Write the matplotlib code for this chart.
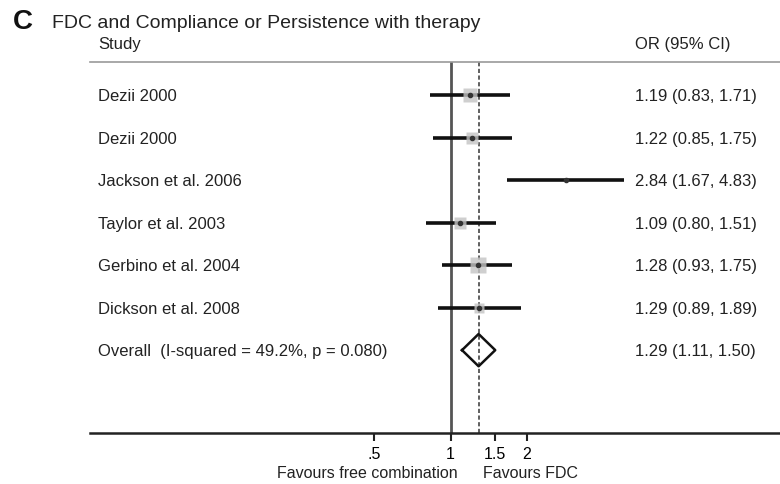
import matplotlib.pyplot as plt
import matplotlib.transforms as mtransforms
import numpy as np

plt.rcParams['font.family'] = ['Liberation Sans', 'DejaVu Sans']

studies = ['Dezii 2000', 'Dezii 2000', 'Jackson et al. 2006', 'Taylor et al. 2003',
           'Gerbino et al. 2004', 'Dickson et al. 2008']
odds = [1.19, 1.22, 2.84, 1.09, 1.28, 1.29]
lower = [0.83, 0.85, 1.67, 0.80, 0.93, 0.89]
upper = [1.71, 1.75, 4.83, 1.51, 1.75, 1.89]
overall_label = 'Overall  (I-squared = 49.2%, p = 0.080)'
overall = (1.29, 1.11, 1.50)
ticks = [0.5, 1, 1.5, 2]
tick_labels = ['.5', '1', '1.5', '2']

# weight boxes (points)
box_sizes = [10, 9, 2, 9, 11, 7]

W, H = 780, 484
fig = plt.figure(figsize=(W / 100, H / 100), dpi=100)
ax = fig.add_axes([90 / W, (H - 433) / H, 690 / W, (433 - 62) / H])
ax.set_xscale('log')
px_per_log2 = 76.5
x_one = 450.5
ax.set_xlim(2 ** ((90 - x_one) / px_per_log2), 2 ** ((780 - x_one) / px_per_log2))
ax.set_ylim(7.95, -0.78)

for s in ['left', 'right']:
    ax.spines[s].set_visible(False)
ax.spines['top'].set_color('#9a9a9a')
ax.spines['top'].set_linewidth(1.2)
ax.spines['bottom'].set_linewidth(1.8)
ax.spines['bottom'].set_color('#222222')
ax.set_yticks([])
ax.set_xticks(ticks)
ax.set_xticklabels(tick_labels)
ax.xaxis.set_minor_locator(plt.NullLocator())
ax.tick_params(axis='x', length=6, width=1.5, pad=4, labelsize=11.5, color='#222222')

# reference lines
ax.axvline(1, color='#555555', lw=2)
ax.axvline(overall[0], color='#444444', lw=1.2, ls=(0, (2.5, 1.5)))

rows = np.arange(len(studies))
for i in rows:
    ax.plot([lower[i], upper[i]], [i, i], color='#111111', lw=2.6, solid_capstyle='butt')
    ax.plot(odds[i], i, marker='s', ms=box_sizes[i], color='#c4c4c4', alpha=0.8, mec='none')
    ax.plot(odds[i], i, marker='o', ms=3, color='#333333')

# pooled estimate diamond
est, lo, hi = overall
yo = len(studies)
ax.plot([lo, est, hi, est, lo], [yo, yo - 0.38, yo, yo + 0.38, yo],
        color='#111111', lw=1.8)

# text columns
lab_tr = mtransforms.blended_transform_factory(fig.transFigure, ax.transData)
for i in rows:
    fig.text(98 / W, i, studies[i], transform=lab_tr, fontsize=12,
             va='center_baseline', ha='left', color='#222222')
    fig.text(635 / W, i, f'{odds[i]:.2f} ({lower[i]:.2f}, {upper[i]:.2f})',
             transform=lab_tr, fontsize=12, va='center_baseline', ha='left', color='#222222')
fig.text(98 / W, yo, overall_label, transform=lab_tr, fontsize=12,
         va='center_baseline', ha='left', color='#222222')
fig.text(635 / W, yo, f'{est:.2f} ({lo:.2f}, {hi:.2f})', transform=lab_tr,
         fontsize=12, va='center_baseline', ha='left', color='#222222')

# headers
fig.text(98 / W, 1 - 45 / H, 'Study', fontsize=12, va='center', color='#222222')
fig.text(635 / W, 1 - 45 / H, 'OR (95% CI)', fontsize=12, va='center', color='#222222')
fig.text(13 / W, 1 - 22 / H, 'C', fontsize=20, fontweight='bold', va='center', color='#111111')
fig.text(52 / W, 1 - 23 / H, 'FDC and Compliance or Persistence with therapy',
         fontsize=14, va='center', color='#222222')

# favours labels
fav_tr = mtransforms.blended_transform_factory(ax.transData, fig.transFigure)
fig.text(1.065, 1 - 474 / H, 'Favours free combination', transform=fav_tr,
         fontsize=11.5, ha='right', va='center', color='#222222')
fig.text(1.34, 1 - 474 / H, 'Favours FDC', transform=fav_tr,
         fontsize=11.5, ha='left', va='center', color='#222222')

fig.savefig('out.png', dpi=100, facecolor='white')
